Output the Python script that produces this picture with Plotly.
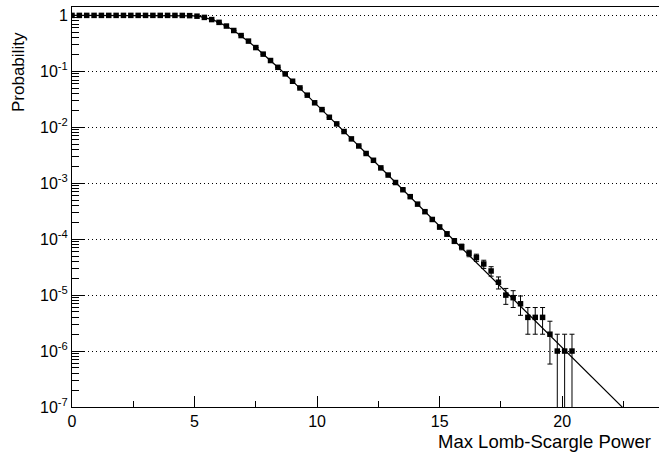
import numpy as np
import plotly.graph_objects as go

# ---- data ----
N_TRIALS = 1_000_000

power = [0.0, 0.3, 0.6, 0.9, 1.2, 1.5, 1.8, 2.1, 2.4, 2.7, 3.0, 3.3, 3.6, 3.9,
         4.2, 4.5, 4.8, 5.1, 5.4, 5.7, 6.0, 6.3, 6.6, 6.9, 7.2, 7.5, 7.8, 8.1,
         8.4, 8.7, 9.0, 9.3, 9.6, 9.9, 10.2, 10.5, 10.8, 11.1, 11.4, 11.7, 12.0,
         12.3, 12.6, 12.9, 13.2, 13.5, 13.8, 14.1, 14.4, 14.7, 15.0, 15.3, 15.6,
         15.9, 16.2, 16.5, 16.8, 17.1, 17.4, 17.7, 18.0, 18.3, 18.6, 18.9, 19.2,
         19.5, 19.8, 20.1, 20.4]

counts = [1000000, 1000000, 1000000, 1000000, 1000000, 1000000, 1000000,
          1000000, 1000000, 1000000, 1000000, 1000000, 999999, 999988,
          999770, 998000, 990000, 968000, 920500, 842000, 750500, 645000,
          537000, 436000, 347000, 266000, 203000, 156000, 118000, 90000,
          66500, 50500, 37500, 27400, 20700, 15100, 11500, 8400, 6200, 4630,
          3400, 2570, 1880, 1400, 1030, 765, 575, 423, 310, 225, 165, 124, 93,
          73, 56, 47, 36, 27, 17, 10, 9, 7, 4, 4, 4, 2, 1, 1, 1]

fit_x = [0, 0.5, 1, 1.5, 2, 2.5, 3, 3.5, 4, 4.25, 4.5, 4.75, 5, 5.25, 5.5,
         5.75, 6, 6.25, 6.5, 6.75, 7, 7.25, 7.5, 7.75, 8, 8.5, 9, 9.5, 10,
         10.5, 11, 11.5, 12, 12.5, 13, 13.5, 14, 14.5, 15, 15.5, 16, 16.5, 17,
         17.5, 18, 18.5, 19, 19.5, 20, 20.5, 21, 21.5, 22, 22.5]
fit_y = [1, 1, 1, 1, 1, 1, 1, 1, 0.99997, 0.99966, 0.99801, 0.99213, 0.97701,
         0.9471, 0.8986, 0.8318, 0.7505, 0.6608, 0.5691, 0.4809, 0.4000,
         0.3281, 0.2664, 0.2143, 0.1713, 0.1077, 0.0668, 0.04105, 0.02510,
         0.01530, 0.00931, 0.005657, 0.003435, 0.002087, 0.0012658, 7.677e-4,
         4.657e-4, 2.824e-4, 1.713e-4, 1.039e-4, 6.302e-5, 3.822e-5, 2.318e-5,
         1.406e-5, 8.529e-6, 5.173e-6, 3.138e-6, 1.903e-6, 1.154e-6, 7.001e-7,
         4.246e-7, 2.575e-7, 1.562e-7, 9.47e-8]

x_ticks = [0, 5, 10, 15, 20]
x_minor = [2.5, 7.5, 12.5, 17.5, 22.5]
y_ticks = [1e-7, 1e-6, 1e-5, 1e-4, 1e-3, 1e-2, 1e-1, 1]
y_ticktext = ["10<sup>-7</sup>", "10<sup>-6</sup>", "10<sup>-5</sup>",
              "10<sup>-4</sup>", "10<sup>-3</sup>", "10<sup>-2</sup>",
              "10<sup>-1</sup>", "1"]

# ---- derived ----
cnt = np.array(counts, dtype=float)
prob = cnt / N_TRIALS
err = np.sqrt(cnt) / N_TRIALS
y_minor = [m * 10.0 ** e for e in range(-7, 0) for m in range(2, 10)]

FONT = "Liberation Sans, Arial, Helvetica, sans-serif"

fig = go.Figure()
fig.add_trace(go.Scatter(x=fit_x, y=fit_y, mode="lines",
                         line=dict(color="black", width=1.2),
                         hoverinfo="skip", showlegend=False))
fig.add_trace(go.Scatter(x=power, y=prob, mode="markers",
                         marker=dict(symbol="square", size=5.5, color="black",
                                     line=dict(width=0)),
                         error_y=dict(type="data", array=err, visible=True,
                                      color="black", thickness=1, width=2.5),
                         showlegend=False))

fig.update_layout(
    width=659, height=460,
    margin=dict(l=72, r=0, t=7, b=53),
    paper_bgcolor="white", plot_bgcolor="white",
    font=dict(family=FONT, size=16, color="black"),
    xaxis=dict(range=[0, 23.95], showline=True, linecolor="black",
               linewidth=1, mirror=True, showgrid=False, zeroline=False,
               ticks="inside", ticklen=11, tickcolor="black",
               tickmode="array", tickvals=x_ticks,
               ticktext=[str(v) for v in x_ticks],
               tickfont=dict(size=16, family=FONT),
               minor=dict(tickmode="array", tickvals=x_minor,
                          ticks="inside", ticklen=6, tickcolor="black",
                          showgrid=False)),
    yaxis=dict(type="log", range=[-7, 0.15], showline=True,
               linecolor="black", linewidth=1, zeroline=False,
               ticks="inside", ticklen=12, tickcolor="black",
               tickmode="array", tickvals=y_ticks, ticktext=y_ticktext,
               tickfont=dict(size=16, family=FONT),
               showgrid=True, gridcolor="black", griddash="1px,3px",
               gridwidth=1,
               minor=dict(tickmode="array", tickvals=y_minor,
                          ticks="inside", ticklen=7, tickcolor="black",
                          showgrid=False)),
    annotations=[
        dict(text="Max Lomb-Scargle Power", xref="paper", yref="paper",
             x=0.99, y=-0.085, xanchor="right", yanchor="middle",
             showarrow=False, font=dict(size=18.5, family=FONT)),
        dict(text="Probability", xref="paper", yref="paper",
             x=-0.092, y=0.9425, xanchor="center", yanchor="top",
             textangle=-90, showarrow=False,
             font=dict(size=17, family=FONT)),
    ],
)

fig.write_html("out.html")
